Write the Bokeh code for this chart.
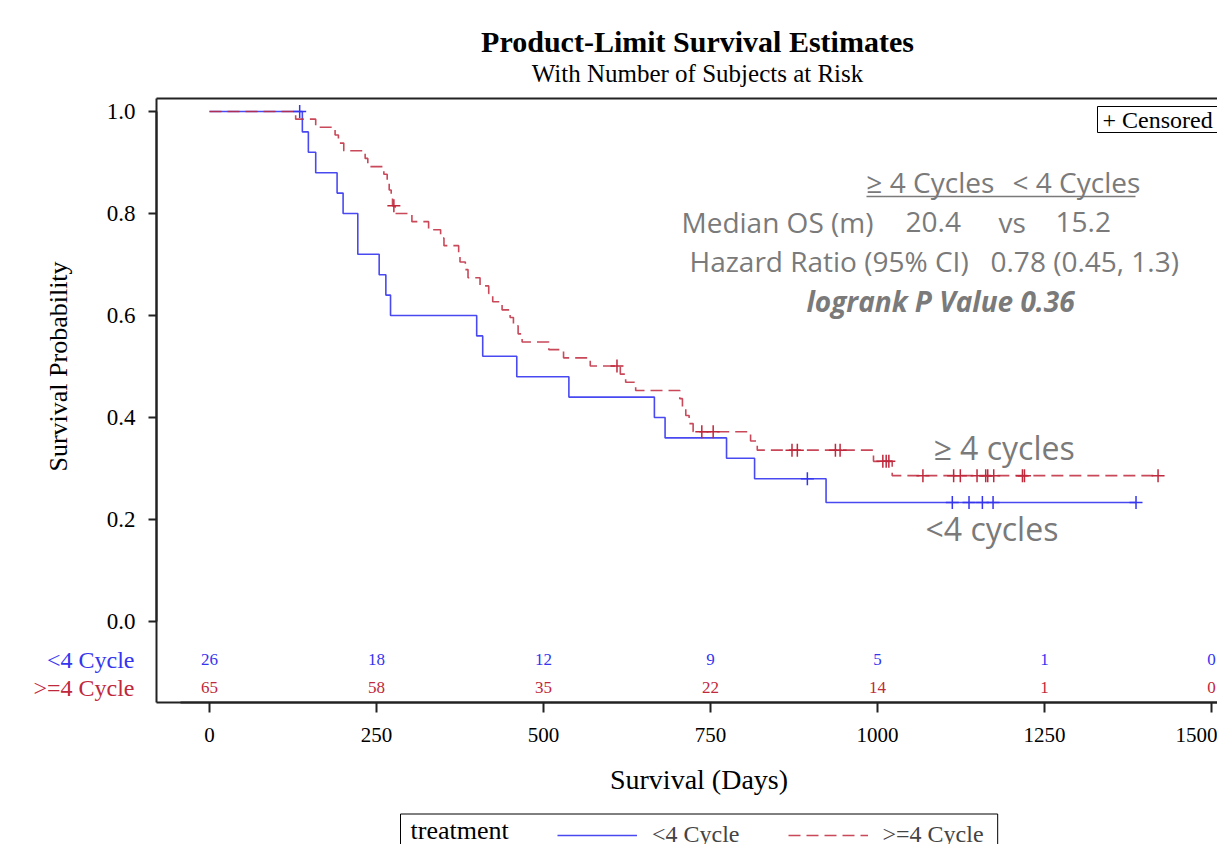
from bokeh.plotting import figure
from bokeh.models import (Range1d, FixedTicker, LinearAxis, Label, Legend, LegendItem,
                          NumeralTickFormatter)
from bokeh.core.properties import value
from bokeh.embed import file_html
from bokeh.resources import INLINE

# ---------------- data ----------------
# <4 Cycle group: event times (days) and KM survival level after each step
lt4_days = [0, 139, 148, 159, 191, 200, 222, 254, 264, 271, 400, 409, 460, 538,
            666, 682, 774, 816, 923, 1387]
lt4_surv = [1.0, 0.96, 0.92, 0.88, 0.84, 0.80, 0.72, 0.68, 0.64, 0.60, 0.56, 0.52,
            0.48, 0.44, 0.40, 0.36, 0.32, 0.28, 0.2333, 0.2333]
lt4_cens_days = [135, 895, 1112, 1137, 1157, 1173, 1387]
lt4_cens_surv = [1.0, 0.28, 0.2333, 0.2333, 0.2333, 0.2333, 0.2333]

# >=4 Cycle group
ge4_days = [0, 129, 159, 188, 193, 201, 233, 237, 261, 266, 269, 272, 274, 278,
            303, 328, 346, 351, 373, 375, 383, 387, 405, 418, 424, 438, 450, 455,
            462, 468, 508, 530, 570, 615, 623, 638, 704, 708, 713, 718, 724, 810,
            820, 994, 1022, 1420]
ge4_surv = [1.0, 0.985, 0.969, 0.954, 0.938, 0.923, 0.908, 0.892, 0.877, 0.862,
            0.846, 0.831, 0.815, 0.800, 0.784, 0.768, 0.752, 0.737, 0.721, 0.705,
            0.690, 0.674, 0.658, 0.643, 0.627, 0.611, 0.596, 0.580, 0.564, 0.548,
            0.533, 0.517, 0.501, 0.485, 0.469, 0.453, 0.437, 0.421, 0.404, 0.388,
            0.372, 0.354, 0.336, 0.314, 0.286, 0.286]
ge4_cens_days = [276, 610, 737, 754, 872, 880, 937, 944, 1008, 1013, 1017, 1068,
                 1114, 1124, 1149, 1162, 1165, 1174, 1217, 1220, 1420]
ge4_cens_surv = [0.815, 0.501, 0.372, 0.372, 0.336, 0.336, 0.336, 0.336, 0.314,
                 0.314, 0.314, 0.286, 0.286, 0.286, 0.286, 0.286, 0.286, 0.286,
                 0.286, 0.286, 0.286]

# numbers at risk
risk_days = [0, 250, 500, 750, 1000, 1250, 1500]
risk_lt4 = [26, 18, 12, 9, 5, 1, 0]
risk_ge4 = [65, 58, 35, 22, 14, 1, 0]

x_ticks = [0, 250, 500, 750, 1000, 1250, 1500]
y_ticks = [0.0, 0.2, 0.4, 0.6, 0.8, 1.0]

# ---------------- layout helpers (page pixel -> data units) ----------------
W, H = 1217, 844
PX0, PXS = 209.0, 0.668      # x pixel of day 0, pixels per day
PY0, PYS = 621.0, 510.0      # y pixel of survival 0, pixels per unit


def X(px):
    return (px - PX0) / PXS


def Y(py):
    return (PY0 - py) / PYS


BLUE = "#3535f0"
RED = "#c0283c"
GREY = "#7a7a7a"
AXC = "#222222"
SERIF = "Liberation Serif"
SANS = "Open Sans"

ROW_LT4 = Y(659)
ROW_GE4 = Y(687)
FRAME_L, FRAME_T, FRAME_B = 156, 98, 702

p = figure(width=W, height=H,
           x_range=Range1d(X(0), X(W)), y_range=Range1d(Y(H), Y(0)),
           x_axis_location=None, y_axis_location=None,
           output_backend="svg", toolbar_location=None,
           min_border_left=0, min_border_right=0, min_border_top=0, min_border_bottom=0)
p.outline_line_color = None
p.grid.visible = False
p.background_fill_color = "white"
p.border_fill_color = "white"


def frame_line(loc, bounds, side):
    ax = LinearAxis(fixed_location=loc, bounds=bounds, ticker=FixedTicker(ticks=[]),
                    major_tick_line_color=None, minor_tick_line_color=None,
                    major_label_text_font_size="0px", axis_line_width=2,
                    axis_line_color=AXC)
    p.add_layout(ax, side)


# frame lines (left, bottom, top)
frame_line(X(FRAME_L), (Y(FRAME_B), Y(FRAME_T)), "left")
frame_line(Y(FRAME_B), (X(FRAME_L), X(W)), "below")
frame_line(Y(FRAME_T), (X(FRAME_L), X(W)), "above")

# ---------------- axes ----------------
xa = LinearAxis(fixed_location=Y(FRAME_B), bounds=(X(180), X(W)),
                ticker=FixedTicker(ticks=x_ticks))
xa.axis_label = "Survival (Days)"
xa.axis_label_text_font = SERIF
xa.axis_label_text_font_size = "28px"
xa.axis_label_text_font_style = "normal"
xa.axis_label_text_color = "black"
xa.axis_label_standoff = 19
xa.major_label_text_font = SERIF
xa.major_label_text_font_size = "21px"
xa.major_label_text_color = "black"
xa.major_label_standoff = 15
xa.major_tick_out = 10
xa.major_tick_in = 0
xa.major_tick_line_width = 2
xa.major_tick_line_color = AXC
xa.minor_tick_line_color = None
xa.axis_line_width = 2
xa.axis_line_color = AXC
p.add_layout(xa, "below")

ya = LinearAxis(fixed_location=X(FRAME_L), bounds=(0.0, 1.0),
                ticker=FixedTicker(ticks=y_ticks),
                formatter=NumeralTickFormatter(format="0.0"))
ya.axis_label = "Survival Probability"
ya.axis_label_text_font = SERIF
ya.axis_label_text_font_size = "26px"
ya.axis_label_text_font_style = "normal"
ya.axis_label_text_color = "black"
ya.axis_label_standoff = 31
ya.major_label_text_font = SERIF
ya.major_label_text_font_size = "23px"
ya.major_label_text_color = "black"
ya.major_label_standoff = 13
ya.major_tick_out = 8
ya.major_tick_in = 0
ya.major_tick_line_width = 2
ya.major_tick_line_color = AXC
ya.minor_tick_line_color = None
ya.axis_line_width = 2
ya.axis_line_color = AXC
p.add_layout(ya, "left")

# ---------------- curves ----------------
r_lt4 = p.step(lt4_days, lt4_surv, mode="after", line_color=BLUE, line_width=1.6,
               line_alpha=0.9)
r_ge4 = p.step(ge4_days, ge4_surv, mode="after", line_color=RED, line_width=1.6,
               line_alpha=0.85, line_dash="12 6")
p.scatter(lt4_cens_days, lt4_cens_surv, marker="cross", size=13, line_color=BLUE,
          line_width=1.5)
p.scatter(ge4_cens_days, ge4_cens_surv, marker="cross", size=13, line_color=RED,
          line_width=1.5)

# ---------------- numbers at risk ----------------
p.text(x=risk_days, y=[ROW_LT4] * len(risk_days), text=[str(v) for v in risk_lt4],
       text_font=value(SERIF), text_font_size="17px", text_color=BLUE,
       text_align="center", text_baseline="middle")
p.text(x=risk_days, y=[ROW_GE4] * len(risk_days), text=[str(v) for v in risk_ge4],
       text_font=value(SERIF), text_font_size="17px", text_color=RED,
       text_align="center", text_baseline="middle")

p.add_layout(Label(x=X(134), y=ROW_LT4, text="<4 Cycle",
                   text_align="right", text_baseline="middle", text_font=SERIF,
                   text_font_size="24px", text_color=BLUE))
p.add_layout(Label(x=X(134), y=ROW_GE4, text=">=4 Cycle",
                   text_align="right", text_baseline="middle", text_font=SERIF,
                   text_font_size="24px", text_color=RED))

# ---------------- titles ----------------
p.add_layout(Label(x=X(697), y=Y(41), text="Product-Limit Survival Estimates",
                   text_align="center", text_baseline="middle", text_font=SERIF,
                   text_font_style="bold", text_font_size="30px", text_color="black"))
p.add_layout(Label(x=X(697), y=Y(73), text="With Number of Subjects at Risk",
                   text_align="center", text_baseline="middle", text_font=SERIF,
                   text_font_size="25px", text_color="black"))

# ---------------- in-plot annotations ----------------
def note(px, py, text, size="28px", style="normal"):
    p.add_layout(Label(x=X(px), y=Y(py), text=text, text_align="left",
                       text_baseline="middle", text_font=SANS, text_font_size=size,
                       text_font_style=style, text_color=GREY))


note(866, 181, "\u2265 4 Cycles")
note(1012, 181, "< 4 Cycles")
p.segment(x0=[X(866)], y0=[Y(196)], x1=[X(1135)], y1=[Y(196)], line_color=GREY,
          line_width=1.5)
note(681, 221, "Median OS (m)")
note(905, 221, "20.4")
note(998, 221, "vs")
note(1055, 221, "15.2")
note(689, 260, "Hazard Ratio (95% CI)")
note(990, 260, "0.78 (0.45, 1.3)")
note(806, 300, "logrank P Value 0.36", style="bold italic")
note(933, 447, "\u2265 4 cycles", size="32px")
note(925, 528, "<4 cycles", size="32px")

# ---------------- censored key (top right) ----------------
p.add_layout(Label(x=X(1097), y=Y(119), text="+ Censored", text_align="left",
                   text_baseline="middle", text_font=SERIF, text_font_size="24px",
                   text_color="black", border_line_color="black", border_line_width=1,
                   background_fill_color="white",
                   padding={"left": 5, "right": 30, "top": 0, "bottom": 0}))

# ---------------- bottom legend ----------------
p.add_layout(Label(x=X(400), y=Y(834), text="treatment",
                   text_align="left", text_baseline="middle", text_font=SERIF,
                   text_font_size="26px", text_color="black",
                   border_line_color="black", border_line_width=1,
                   padding={"left": 10, "right": 489, "top": 2, "bottom": 10}))
leg_b = Legend(items=[LegendItem(label="<4 Cycle", renderers=[r_lt4]),
                      LegendItem(label=">=4 Cycle", renderers=[r_ge4])],
               location=(557, -4), orientation="horizontal", padding=0, margin=0,
               spacing=48, glyph_width=80, glyph_height=26, label_height=26,
               label_standoff=15, label_text_font=SERIF, label_text_font_size="24px",
               border_line_color=None, background_fill_alpha=0)
p.add_layout(leg_b)

open("out.html", "w").write(file_html(p, INLINE))
